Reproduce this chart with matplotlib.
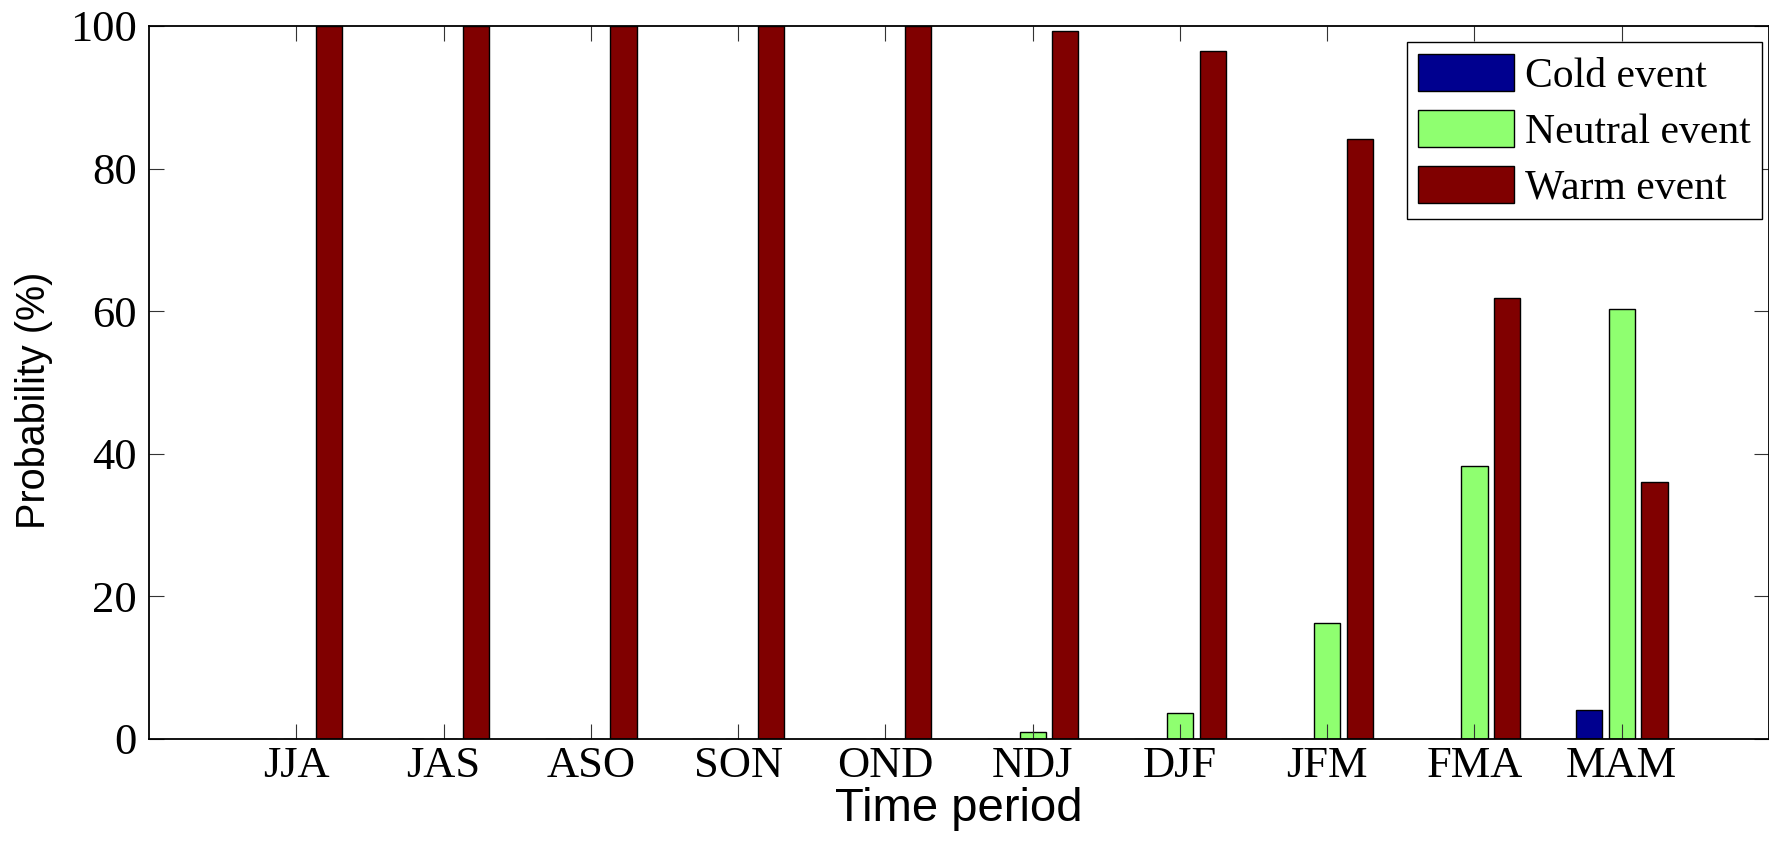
import numpy as np
import matplotlib
matplotlib.use("Agg")
import matplotlib.pyplot as plt

periods = ["JJA", "JAS", "ASO", "SON", "OND", "NDJ", "DJF", "JFM", "FMA", "MAM"]
cold = [0, 0, 0, 0, 0, 0, 0, 0, 0, 4.0]
neutral = [0, 0, 0, 0, 0, 1.0, 3.7, 16.2, 38.3, 60.3]
warm = [100, 100, 100, 100, 100, 99.3, 96.5, 84.2, 61.8, 36.0]
series_names = ["Cold event", "Neutral event", "Warm event"]
colors = ["#00008F", "#8FFF70", "#800000"]

serif = "Liberation Serif"
sans = "Liberation Sans"

fig = plt.figure(figsize=(17.69, 8.43), dpi=100)
ax = fig.add_axes([149 / 1769, 1 - 739 / 843, 1620 / 1769, 713 / 843])

x = np.arange(1, len(periods) + 1)
step = 0.2222
width = 0.178
for i, (vals, name, c) in enumerate(zip([cold, neutral, warm], series_names, colors)):
    ax.bar(x + (i - 1) * step, vals, width, color=c, edgecolor="black",
           linewidth=1.0, label=name)

ax.set_xlim(0, 11)
ax.set_ylim(0, 100)
ax.set_xticks(x)
ax.set_xticklabels(periods, fontfamily=serif, fontsize=32)
ax.set_yticks(np.arange(0, 101, 20))
ax.set_yticklabels([str(v) for v in range(0, 101, 20)], fontfamily=serif, fontsize=32)
ax.tick_params(direction="in", length=11, width=0.8, color="#333333",
               top=True, right=True)
ax.tick_params(axis="x", pad=5)
ax.tick_params(axis="y", pad=9)
for s in ax.spines.values():
    s.set_linewidth(1.3)
    s.set_color("black")

ax.set_xlabel("Time period", fontfamily=sans, fontsize=34)
ax.xaxis.set_label_coords(0.5, -0.068)
ax.set_ylabel("Probability (%)", fontfamily=sans, fontsize=28.5)
ax.yaxis.set_label_coords(-0.059, 0.475)

leg = ax.legend(loc="upper right", bbox_to_anchor=(1762 / 1769, 1 - 42 / 843),
                bbox_transform=fig.transFigure, prop={"family": serif, "size": 30},
                fancybox=False, framealpha=1, edgecolor="black",
                handlelength=2.3, handleheight=1.0, handletextpad=0.25,
                labelspacing=0.34, borderpad=0.28, borderaxespad=0)
leg.get_frame().set_linewidth(1.0)

fig.savefig("out.png", dpi=100)
